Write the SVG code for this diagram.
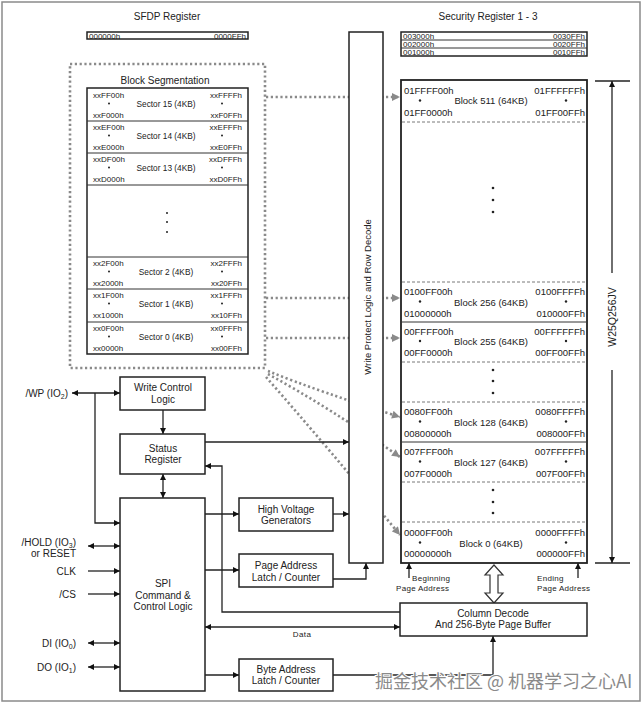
<svg xmlns="http://www.w3.org/2000/svg" width="643" height="704" viewBox="0 0 643 704">
<defs>
<marker id="ah" viewBox="0 0 10 10" refX="10" refY="5" markerWidth="8" markerHeight="6" markerUnits="userSpaceOnUse" orient="auto-start-reverse"><path d="M0,0 L10,5 L0,10 z" fill="#111"/></marker>
<marker id="ag" viewBox="0 0 10 10" refX="10" refY="5" markerWidth="9" markerHeight="8" markerUnits="userSpaceOnUse" orient="auto"><path d="M0,0 L10,5 L0,10 z" fill="#8a8a8a"/></marker>
<style>
text{font-family:"Liberation Sans",Arial,sans-serif;fill:#222}
.t10{font-size:10px;text-anchor:middle}
.lbl{font-size:10px;text-anchor:end}
.a8{font-size:8px}
.m{font-size:9.5px}
.s8{font-size:8.3px;text-anchor:middle}
.box{fill:#fff;stroke:#222;stroke-width:1.5}
.ln{fill:none;stroke:#222;stroke-width:1.3}
.dot{fill:none;stroke:#8a8a8a;stroke-width:2.6;stroke-dasharray:2.2 2.6}
.dash{stroke:#555;stroke-width:0.8;stroke-dasharray:3 2}
.sep{stroke:#333;stroke-width:1}
.d{fill:#222}
</style>
</defs>
<rect x="2" y="2" width="638" height="699" fill="#fff" stroke="#8a8a8a" stroke-width="1.5"/>

<!-- SFDP -->
<g id="sfdp">
<text class="t10" x="167" y="20">SFDP Register</text>
<rect x="87" y="32" width="161" height="7" fill="#fff" stroke="#222" stroke-width="1.5"/>
<text class="a8" x="89" y="38.5">000000h</text>
<text class="a8" x="246" y="38.5" text-anchor="end">0000FFh</text>
</g>

<!-- Security registers -->
<g id="security">
<text class="t10" x="488" y="20">Security Register 1 - 3</text>
<rect x="401" y="32" width="186" height="24" fill="#fff" stroke="#222" stroke-width="1.5"/>
<line class="sep" x1="401" y1="40" x2="587" y2="40"/>
<line class="sep" x1="401" y1="48" x2="587" y2="48"/>
<text class="a8" x="403" y="39">003000h</text><text class="a8" x="585" y="39" text-anchor="end">0030FFh</text>
<text class="a8" x="403" y="47">002000h</text><text class="a8" x="585" y="47" text-anchor="end">0020FFh</text>
<text class="a8" x="403" y="55">001000h</text><text class="a8" x="585" y="55" text-anchor="end">0010FFh</text>
</g>

<!-- connectors (drawn first so boxes cover them) -->
<g id="connectors">
<!-- dotted mapping -->
<rect class="dot" x="70" y="64" width="195" height="304"/>
<line class="dot" x1="266" y1="97" x2="400" y2="97" marker-end="url(#ag)"/>
<line class="dot" x1="266" y1="298" x2="400" y2="298" marker-end="url(#ag)"/>
<line class="dot" x1="266" y1="338" x2="400" y2="338" marker-end="url(#ag)"/>
<path class="dot" d="M268,371 Q320,392 400,417" marker-end="url(#ag)"/>
<path class="dot" d="M268,374 Q330,408 400,457" marker-end="url(#ag)"/>
<path class="dot" d="M266,377 Q330,450 400,535" marker-end="url(#ag)"/>
<!-- solid -->
<line class="ln" x1="72" y1="393" x2="120" y2="393" marker-start="url(#ah)" marker-end="url(#ah)"/>
<path class="ln" d="M95,393 V523 H120" marker-end="url(#ah)"/>
<line class="ln" x1="163" y1="410" x2="163" y2="434" marker-end="url(#ah)"/>
<line class="ln" x1="163" y1="474" x2="163" y2="498" marker-start="url(#ah)" marker-end="url(#ah)"/>
<line class="ln" x1="205" y1="442" x2="349" y2="442" marker-end="url(#ah)"/>
<path class="ln" d="M400,612 H222 V466 H205" marker-end="url(#ah)"/>
<line class="ln" x1="205" y1="627" x2="400" y2="627" marker-start="url(#ah)" marker-end="url(#ah)"/>
<line class="ln" x1="205" y1="514" x2="239" y2="514" marker-end="url(#ah)"/>
<line class="ln" x1="333" y1="514" x2="349" y2="514" marker-end="url(#ah)"/>
<line class="ln" x1="205" y1="570" x2="239" y2="570" marker-end="url(#ah)"/>
<path class="ln" d="M333,579 H366 V563" marker-end="url(#ah)"/>
<line class="ln" x1="205" y1="675" x2="239" y2="675" marker-end="url(#ah)"/>
<path class="ln" d="M333,675 H493 V636" marker-end="url(#ah)"/>
<line class="ln" x1="88" y1="546" x2="120" y2="546" marker-start="url(#ah)" marker-end="url(#ah)"/>
<line class="ln" x1="88" y1="571" x2="120" y2="571" marker-end="url(#ah)"/>
<line class="ln" x1="88" y1="594" x2="120" y2="594" marker-end="url(#ah)"/>
<line class="ln" x1="88" y1="643" x2="120" y2="643" marker-start="url(#ah)" marker-end="url(#ah)"/>
<line class="ln" x1="88" y1="667" x2="120" y2="667" marker-start="url(#ah)" marker-end="url(#ah)"/>
<line class="ln" x1="409" y1="578" x2="409" y2="563" marker-end="url(#ah)"/>
<line class="ln" x1="578" y1="578" x2="578" y2="563" marker-end="url(#ah)"/>
<polygon points="494,565 503,575 498,575 498,593 503,593 494,603 485,593 490,593 490,575 485,575" fill="#fff" stroke="#333" stroke-width="1.2"/>
<line class="ln" x1="595" y1="81" x2="630" y2="81"/>
<line class="ln" x1="595" y1="563" x2="630" y2="563"/>
<line class="ln" x1="612" y1="273" x2="612" y2="81" marker-end="url(#ah)"/>
<line class="ln" x1="612" y1="370" x2="612" y2="563" marker-end="url(#ah)"/>
<text class="a8" x="302" y="637" text-anchor="middle" letter-spacing="0.4">Data</text>
<text class="a8" x="412" y="581" letter-spacing="0.3">Beginning</text>
<text class="a8" x="396" y="591" letter-spacing="0.3">Page Address</text>
<text class="a8" x="537" y="581" letter-spacing="0.3">Ending</text>
<text class="a8" x="537" y="591" letter-spacing="0.3">Page Address</text>
<text x="612" y="317" font-size="10.5" text-anchor="middle" transform="rotate(-90 612 317)" dominant-baseline="central">W25Q256JV</text>
</g>

<!-- Block segmentation -->
<g id="block-seg">
<text class="t10" x="165" y="84">Block Segmentation</text>
<rect x="87" y="88" width="161" height="266" fill="#fff" stroke="#222" stroke-width="1.5"/>
<g class="sep">
<line x1="87" y1="121" x2="248" y2="121"/><line x1="87" y1="153" x2="248" y2="153"/>
<line x1="87" y1="185" x2="248" y2="185"/><line x1="87" y1="257" x2="248" y2="257"/>
<line x1="87" y1="289" x2="248" y2="289"/><line x1="87" y1="322" x2="248" y2="322"/>
</g>
<g class="a8">
<text x="93" y="98">xxFF00h</text><text x="242" y="98" text-anchor="end">xxFFFFh</text>
<text x="93" y="118">xxF000h</text><text x="242" y="118" text-anchor="end">xxF0FFh</text>
<text x="93" y="130">xxEF00h</text><text x="242" y="130" text-anchor="end">xxEFFFh</text>
<text x="93" y="150">xxE000h</text><text x="242" y="150" text-anchor="end">xxE0FFh</text>
<text x="93" y="162">xxDF00h</text><text x="242" y="162" text-anchor="end">xxDFFFh</text>
<text x="93" y="182">xxD000h</text><text x="242" y="182" text-anchor="end">xxD0FFh</text>
<text x="93" y="266">xx2F00h</text><text x="242" y="266" text-anchor="end">xx2FFFh</text>
<text x="93" y="286">xx2000h</text><text x="242" y="286" text-anchor="end">xx20FFh</text>
<text x="93" y="298">xx1F00h</text><text x="242" y="298" text-anchor="end">xx1FFFh</text>
<text x="93" y="318">xx1000h</text><text x="242" y="318" text-anchor="end">xx10FFh</text>
<text x="93" y="331">xx0F00h</text><text x="242" y="331" text-anchor="end">xx0FFFh</text>
<text x="93" y="351">xx0000h</text><text x="242" y="351" text-anchor="end">xx00FFh</text>
</g>
<text class="s8" x="166" y="107">Sector 15 (4KB)</text>
<text class="s8" x="166" y="139">Sector 14 (4KB)</text>
<text class="s8" x="166" y="171">Sector 13 (4KB)</text>
<text class="s8" x="166" y="275">Sector 2 (4KB)</text>
<text class="s8" x="166" y="307">Sector 1 (4KB)</text>
<text class="s8" x="166" y="340">Sector 0 (4KB)</text>
<g class="d">
<circle cx="109" cy="103.5" r="1"/><circle cx="222" cy="103.5" r="1"/>
<circle cx="109" cy="135.5" r="1"/><circle cx="222" cy="135.5" r="1"/>
<circle cx="109" cy="167.5" r="1"/><circle cx="222" cy="167.5" r="1"/>
<circle cx="109" cy="271.5" r="1"/><circle cx="222" cy="271.5" r="1"/>
<circle cx="109" cy="303.5" r="1"/><circle cx="222" cy="303.5" r="1"/>
<circle cx="109" cy="336.5" r="1"/><circle cx="222" cy="336.5" r="1"/>
<circle cx="167" cy="213" r="1"/><circle cx="167" cy="222" r="1"/><circle cx="167" cy="232" r="1"/>
</g>
</g>

<!-- Write protect -->
<g id="write-protect">
<rect class="box" x="349" y="32" width="34" height="531" stroke-width="1.2"/>
<text x="367" y="297" font-size="9.5" text-anchor="middle" dominant-baseline="central" transform="rotate(-90 367 297)">Write Protect Logic and Row Decode</text>
</g>

<!-- Memory array -->
<g id="memory">
<rect x="401" y="80" width="186" height="483" fill="#fff" stroke="#222" stroke-width="1.8"/>
<line class="dash" x1="402" y1="122" x2="586" y2="122"/>
<line class="dash" x1="402" y1="282" x2="586" y2="282"/>
<line class="sep" x1="402" y1="322" x2="586" y2="322"/>
<line class="dash" x1="402" y1="362" x2="586" y2="362"/>
<line class="dash" x1="402" y1="402" x2="586" y2="402"/>
<line class="sep" x1="402" y1="442" x2="586" y2="442"/>
<line class="dash" x1="402" y1="482" x2="586" y2="482"/>
<line class="dash" x1="402" y1="522" x2="586" y2="522"/>
<g class="m">
<text x="404" y="93.5">01FFFF00h</text><text x="585" y="93.5" text-anchor="end">01FFFFFFh</text>
<text x="491" y="104" text-anchor="middle">Block 511 (64KB)</text>
<text x="404" y="115.5">01FF0000h</text><text x="585" y="115.5" text-anchor="end">01FF00FFh</text>

<text x="404" y="294.5">0100FF00h</text><text x="585" y="294.5" text-anchor="end">0100FFFFh</text>
<text x="491" y="305.5" text-anchor="middle">Block 256 (64KB)</text>
<text x="404" y="316.5">01000000h</text><text x="585" y="316.5" text-anchor="end">010000FFh</text>

<text x="404" y="334.5">00FFFF00h</text><text x="585" y="334.5" text-anchor="end">00FFFFFFh</text>
<text x="491" y="344.5" text-anchor="middle">Block 255 (64KB)</text>
<text x="404" y="355.5">00FF0000h</text><text x="585" y="355.5" text-anchor="end">00FF00FFh</text>

<text x="404" y="414.5">0080FF00h</text><text x="585" y="414.5" text-anchor="end">0080FFFFh</text>
<text x="491" y="425.5" text-anchor="middle">Block 128 (64KB)</text>
<text x="404" y="436.5">00800000h</text><text x="585" y="436.5" text-anchor="end">008000FFh</text>

<text x="404" y="454.5">007FFF00h</text><text x="585" y="454.5" text-anchor="end">007FFFFFh</text>
<text x="491" y="465.5" text-anchor="middle">Block 127 (64KB)</text>
<text x="404" y="476.5">007F0000h</text><text x="585" y="476.5" text-anchor="end">007F00FFh</text>

<text x="404" y="535.5">0000FF00h</text><text x="585" y="535.5" text-anchor="end">0000FFFFh</text>
<text x="491" y="546.5" text-anchor="middle">Block 0 (64KB)</text>
<text x="404" y="556.5">00000000h</text><text x="585" y="556.5" text-anchor="end">000000FFh</text>
</g>
<g class="d">
<circle cx="420" cy="100.5" r="1.2"/><circle cx="566" cy="100.5" r="1.2"/>
<circle cx="420" cy="301.5" r="1.2"/><circle cx="566" cy="301.5" r="1.2"/>
<circle cx="420" cy="341" r="1.2"/><circle cx="566" cy="341" r="1.2"/>
<circle cx="420" cy="421.5" r="1.2"/><circle cx="566" cy="421.5" r="1.2"/>
<circle cx="420" cy="461.5" r="1.2"/><circle cx="566" cy="461.5" r="1.2"/>
<circle cx="420" cy="542.5" r="1.2"/><circle cx="566" cy="542.5" r="1.2"/>
<circle cx="493" cy="188" r="1.3"/><circle cx="493" cy="200" r="1.3"/><circle cx="493" cy="212" r="1.3"/>
<circle cx="493" cy="370" r="1.3"/><circle cx="493" cy="381" r="1.3"/><circle cx="493" cy="393" r="1.3"/>
<circle cx="493" cy="490" r="1.3"/><circle cx="493" cy="502" r="1.3"/><circle cx="493" cy="513" r="1.3"/>
</g>
</g>

<!-- Left side boxes -->
<g id="write-control">
<rect class="box" x="120" y="377" width="85" height="33"/>
<text class="t10" x="163" y="391">Write Control</text>
<text class="t10" x="163" y="403">Logic</text>
</g>
<g id="status-register">
<rect class="box" x="120" y="434" width="85" height="40"/>
<text class="t10" x="163" y="452">Status</text>
<text class="t10" x="163" y="463">Register</text>
</g>
<g id="spi">
<rect class="box" x="120" y="498" width="85" height="193"/>
<text class="t10" x="163" y="587">SPI</text>
<text class="t10" x="163" y="598.5">Command &amp;</text>
<text class="t10" x="163" y="610">Control Logic</text>
</g>
<g id="hvg">
<rect class="box" x="239" y="498" width="94" height="33"/>
<text class="t10" x="286" y="512.5">High Voltage</text>
<text class="t10" x="286" y="524">Generators</text>
</g>
<g id="page-addr">
<rect class="box" x="239" y="554" width="94" height="33"/>
<text class="t10" x="286" y="568.5">Page Address</text>
<text class="t10" x="286" y="580.5">Latch / Counter</text>
</g>
<g id="byte-addr">
<rect class="box" x="239" y="659" width="94" height="32"/>
<text class="t10" x="286" y="672.5">Byte Address</text>
<text class="t10" x="286" y="683.5">Latch / Counter</text>
</g>
<g id="column-decode">
<rect class="box" x="400" y="603" width="187" height="33"/>
<text class="t10" x="493" y="616.5">Column Decode</text>
<text class="t10" x="493" y="627.5">And 256-Byte Page Buffer</text>
</g>

<!-- Pin labels -->
<g id="pins">
<text class="lbl" x="68" y="396.5">/WP (IO<tspan font-size="7" dy="2">2</tspan><tspan dy="-2">)</tspan></text>
<text class="lbl" x="76" y="545.5">/HOLD (IO<tspan font-size="7" dy="2">3</tspan><tspan dy="-2">)</tspan></text>
<text class="lbl" x="76" y="556.5">or RESET</text>
<text class="lbl" x="76" y="574.5">CLK</text>
<text class="lbl" x="76" y="597.5">/CS</text>
<text class="lbl" x="76" y="646.5">DI (IO<tspan font-size="7" dy="2">0</tspan><tspan dy="-2">)</tspan></text>
<text class="lbl" x="76" y="670.5">DO (IO<tspan font-size="7" dy="2">1</tspan><tspan dy="-2">)</tspan></text>
</g>

<text x="375" y="688" font-family="'Noto Sans CJK SC','Liberation Sans',sans-serif" font-size="18" fill="#8a8a8a" stroke="#fff" stroke-width="2" paint-order="stroke" style="fill:#8a8a8a;font-family:'Noto Sans CJK SC','Liberation Sans',sans-serif">掘金技术社区 @ 机器学习之心AI</text>
</svg>
